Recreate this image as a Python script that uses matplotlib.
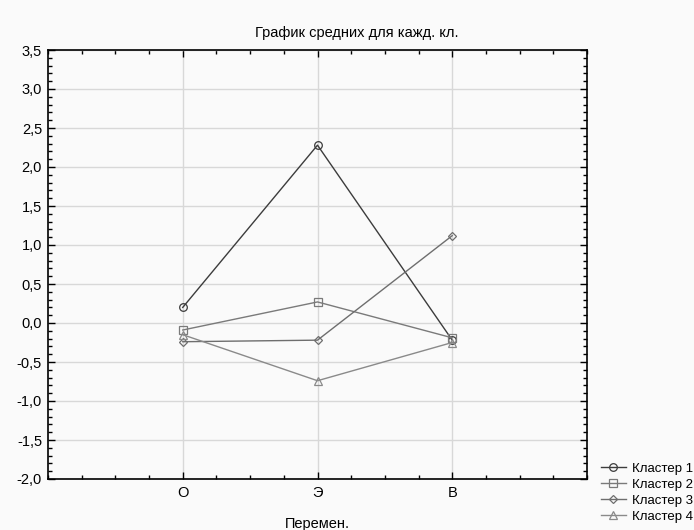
import matplotlib.pyplot as plt
from matplotlib.ticker import MultipleLocator, FuncFormatter

plt.rcParams['font.family'] = ['Liberation Sans', 'DejaVu Sans']
plt.rcParams['font.size'] = 10.5

# Данные
variables = ['О', 'Э', 'В']
cluster1 = [0.20, 2.28, -0.22]
cluster2 = [-0.09, 0.27, -0.19]
cluster3 = [-0.24, -0.22, 1.12]
cluster4 = [-0.15, -0.74, -0.25]
labels = ['Кластер 1', 'Кластер 2', 'Кластер 3', 'Кластер 4']

series = [cluster1, cluster2, cluster3, cluster4]
markers = ['o', 's', 'D', '^']
colors = ['#3c3c3c', '#7a7a7a', '#6e6e6e', '#8a8a8a']
msizes = [5.5, 6, 4, 6]

fig = plt.figure(figsize=(6.94, 5.30), dpi=100, facecolor='#fafafa')
ax = fig.add_axes([48/694, 1 - 479/530, 539/694, 429/530], facecolor='#fafafa')

x = range(len(variables))
for vals, m, c, ms, lab in zip(series, markers, colors, msizes, labels):
    ax.plot(x, vals, color=c, lw=1, marker=m, ms=ms, mfc='none', mec=c,
            mew=0.9, label=lab, zorder=3)

ax.set_xlim(-1, 3)
ax.set_ylim(-2.0, 3.5)
ax.set_xticks(list(x))
ax.set_xticklabels(variables)
ax.xaxis.set_minor_locator(MultipleLocator(0.25))
ax.yaxis.set_major_locator(MultipleLocator(0.5))
ax.yaxis.set_minor_locator(MultipleLocator(0.1))
ax.yaxis.set_major_formatter(FuncFormatter(lambda v, p: f'{v:.1f}'.replace('.', ',')))
ax.tick_params(direction='in', which='both', top=True, right=True, colors='black',
               labelsize=10.5, width=1)
ax.tick_params(which='major', length=5)
ax.tick_params(which='minor', length=3)
ax.tick_params(axis='y', which='major', pad=4.3)
ax.tick_params(axis='x', which='major', pad=5)
ax.grid(True, which='major', color='#d8d8d8', lw=1, zorder=0)
for s in ax.spines.values():
    s.set_linewidth(1.2)

fig.text(357/694, 1 - 33/530, 'График средних для кажд. кл.', ha='center', va='center', fontsize=10.5)
ax.set_xlabel('Перемен.', fontsize=10.5, labelpad=12)

fig.legend(loc='upper left', bbox_to_anchor=(594/694, 1 - 456/530), frameon=False,
           handlelength=1.9, labelspacing=0.28, handletextpad=0.45, fontsize=9.5,
           borderpad=0)

fig.savefig('out.png', dpi=100, facecolor=fig.get_facecolor())
